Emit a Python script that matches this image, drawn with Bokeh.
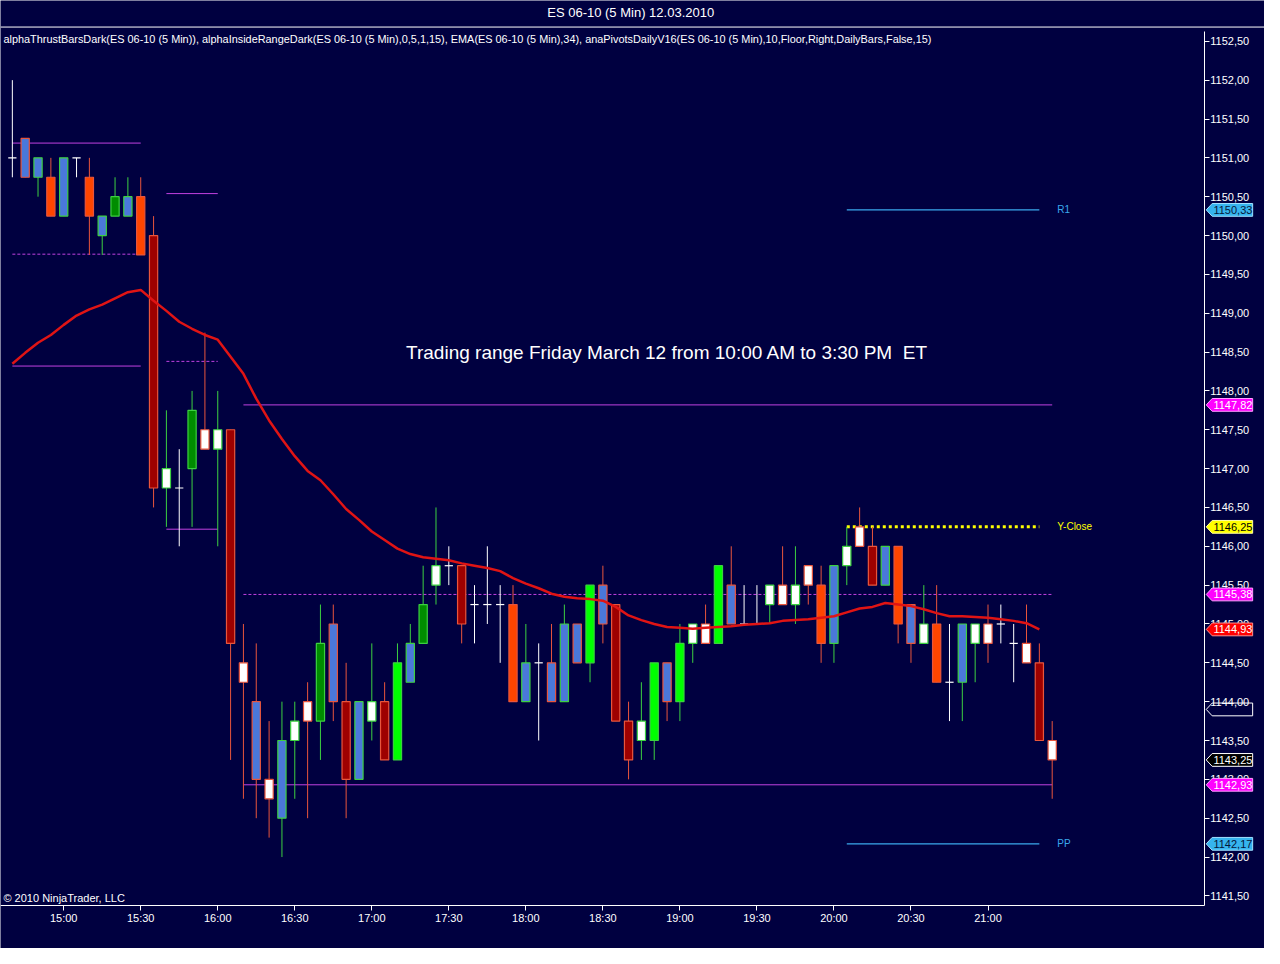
from bokeh.plotting import figure
from bokeh.models import ColumnDataSource, Range1d, FixedTicker, Span
from bokeh.embed import file_html
from bokeh.resources import INLINE
from bokeh.core.properties import value

# ---------------- data ----------------
title_text = "ES 06-10 (5 Min)  12.03.2010"
indicator_text = ("alphaThrustBarsDark(ES 06-10 (5 Min)), alphaInsideRangeDark(ES 06-10 (5 Min),0,5,1,15), "
                  "EMA(ES 06-10 (5 Min),34), anaPivotsDailyV16(ES 06-10 (5 Min),10,Floor,Right,DailyBars,False,15)")
note_text = "Trading range Friday March 12 from 10:00 AM to 3:30 PM\u00a0 ET"
copyright_text = "\u00a9 2010 NinjaTrader, LLC"

first_bar_time = "14:40"
bar_minutes = 5

opens = [1151.0, 1151.25, 1150.75, 1150.75, 1150.25, 1151.0, 1150.75, 1150.0, 1150.25, 1150.25,
         1150.5, 1150.0, 1146.75, 1146.75, 1147.0, 1147.5, 1147.25, 1147.5, 1144.5, 1144.0,
         1143.0, 1142.5, 1143.5, 1144.0, 1143.75, 1145.0, 1144.0, 1143.0, 1143.75, 1144.0,
         1143.25, 1144.25, 1144.75, 1145.5, 1145.75, 1145.75, 1145.25, 1145.25, 1145.25, 1145.25,
         1144.0, 1144.5, 1144.5, 1144.0, 1145.0, 1144.5, 1145.5, 1145.25, 1143.75, 1143.5,
         1143.5, 1144.5, 1144.0, 1144.75, 1145.0, 1144.75, 1145.5, 1145.0, 1145.0, 1145.25,
         1145.5, 1145.25, 1145.75, 1145.5, 1144.75, 1145.75, 1146.25, 1146.0, 1145.5, 1146.0,
         1145.25, 1144.75, 1145.0, 1144.25, 1144.25, 1144.75, 1145.0, 1145.0, 1144.75, 1144.75,
         1144.5, 1143.5]
highs = [1152.0, 1151.25, 1151.0, 1151.0, 1151.0, 1151.0, 1151.0, 1150.25, 1150.75, 1150.75,
         1150.75, 1150.25, 1147.75, 1147.25, 1148.0, 1148.75, 1148.0, 1147.5, 1145.0, 1144.75,
         1143.75, 1144.0, 1144.0, 1144.25, 1145.25, 1145.25, 1144.5, 1144.0, 1144.75, 1144.25,
         1144.75, 1145.0, 1145.75, 1146.5, 1146.0, 1145.75, 1145.5, 1146.0, 1145.5, 1145.5,
         1145.0, 1144.75, 1145.0, 1145.25, 1145.0, 1145.5, 1145.75, 1145.25, 1144.0, 1144.25,
         1144.5, 1144.5, 1145.0, 1145.0, 1145.25, 1145.75, 1146.0, 1145.5, 1145.5, 1145.5,
         1146.0, 1146.0, 1145.75, 1145.75, 1145.75, 1146.25, 1146.5, 1146.25, 1146.0, 1146.0,
         1145.25, 1145.5, 1145.5, 1145.0, 1145.0, 1145.0, 1145.25, 1145.25, 1145.0, 1145.25,
         1144.75, 1143.75]
lows = [1150.75, 1150.75, 1150.5, 1150.25, 1150.25, 1150.75, 1149.75, 1149.75, 1150.25, 1150.25,
        1149.75, 1146.5, 1146.25, 1146.0, 1146.25, 1147.25, 1146.0, 1143.25, 1142.75, 1142.5,
        1142.25, 1142.0, 1142.75, 1142.5, 1143.25, 1143.75, 1142.5, 1143.0, 1143.5, 1143.25,
        1143.25, 1144.25, 1144.75, 1145.25, 1145.5, 1144.75, 1144.75, 1145.0, 1144.5, 1144.0,
        1144.0, 1143.5, 1144.0, 1144.0, 1144.5, 1144.25, 1144.75, 1143.75, 1143.0, 1143.25,
        1143.25, 1143.75, 1143.75, 1144.5, 1144.75, 1144.75, 1145.0, 1145.0, 1145.0, 1145.0,
        1145.25, 1145.0, 1145.25, 1144.5, 1144.5, 1145.5, 1146.0, 1145.5, 1145.5, 1144.75,
        1144.5, 1144.75, 1144.25, 1143.75, 1143.75, 1144.25, 1144.5, 1144.75, 1144.25, 1144.5,
        1143.5, 1142.75]
closes = [1151.0, 1150.75, 1151.0, 1150.25, 1151.0, 1151.0, 1150.25, 1150.25, 1150.5, 1150.5,
          1149.75, 1146.75, 1147.0, 1146.75, 1147.75, 1147.25, 1147.5, 1144.75, 1144.25, 1143.0,
          1142.75, 1143.5, 1143.75, 1143.75, 1144.75, 1144.0, 1143.0, 1144.0, 1144.0, 1143.25,
          1144.5, 1144.75, 1145.25, 1145.75, 1145.75, 1145.0, 1145.25, 1145.25, 1145.25, 1144.0,
          1144.5, 1144.5, 1144.0, 1145.0, 1144.5, 1145.5, 1145.0, 1143.75, 1143.25, 1143.75,
          1144.5, 1144.0, 1144.75, 1145.0, 1144.75, 1145.75, 1145.0, 1145.0, 1145.0, 1145.5,
          1145.25, 1145.5, 1145.5, 1144.75, 1145.75, 1146.0, 1146.0, 1145.5, 1146.0, 1145.0,
          1144.75, 1145.0, 1144.25, 1144.25, 1145.0, 1145.0, 1144.75, 1145.0, 1144.75, 1144.5,
          1143.5, 1143.25]
# thrust-bar body category per bar: b=blue, o=orange-red, d=dark red, g=green, l=lime, w=white, x=doji
thrust_type = ["x", "b", "b", "o", "b", "x", "o", "b", "g", "b",
               "o", "d", "w", "x", "g", "w", "w", "d", "w", "b",
               "w", "b", "w", "w", "g", "b", "d", "b", "w", "d",
               "l", "b", "g", "w", "x", "d", "x", "x", "x", "o",
               "b", "x", "b", "b", "b", "l", "b", "d", "d", "w",
               "l", "b", "l", "w", "w", "l", "b", "x", "x", "w",
               "w", "w", "w", "o", "b", "w", "w", "d", "b", "o",
               "b", "w", "o", "x", "b", "w", "w", "x", "x", "w",
               "d", "w"]
ema34 = [1148.35, 1148.49, 1148.62, 1148.72, 1148.85, 1148.97, 1149.05, 1149.11, 1149.19, 1149.27,
         1149.30, 1149.16, 1149.03, 1148.89, 1148.80, 1148.72, 1148.66, 1148.44, 1148.22, 1147.90,
         1147.62, 1147.38, 1147.16, 1146.97, 1146.85, 1146.67, 1146.48, 1146.34, 1146.19, 1146.08,
         1145.97, 1145.90, 1145.86, 1145.84, 1145.82, 1145.78, 1145.75, 1145.72, 1145.68, 1145.59,
         1145.52, 1145.46, 1145.39, 1145.35, 1145.33, 1145.32, 1145.30, 1145.22, 1145.11, 1145.05,
         1145.00, 1144.96, 1144.95, 1144.94, 1144.95, 1144.96, 1144.97, 1144.99, 1145.00, 1145.01,
         1145.04, 1145.05, 1145.06, 1145.08, 1145.10, 1145.15, 1145.20, 1145.22, 1145.27, 1145.25,
         1145.23, 1145.19, 1145.14, 1145.10, 1145.10, 1145.09, 1145.08, 1145.06, 1145.04, 1145.01,
         1144.93]

# inside-range lines (start bar, end bar, price, dashed?)
range_start = [0, 0, 0, 12, 12, 12, 18, 18, 18]
range_end = [10, 10, 10, 16, 16, 16, 81, 81, 81]
range_price = [1151.19, 1149.76, 1148.32, 1150.54, 1148.38, 1146.22, 1147.82, 1145.38, 1142.93]
range_dashed = [False, True, False, False, True, False, False, True, False]

# daily pivots
pivot_names = ["R1", "Y-Close", "PP"]
pivot_values = [1150.33, 1146.25, 1142.17]
pivot_start_bar = 65
pivot_end_bar = 80

time_tick_labels = ["15:00", "15:30", "16:00", "16:30", "17:00", "17:30", "18:00", "18:30",
                    "19:00", "19:30", "20:00", "20:30", "21:00"]
price_ticks = [1141.5, 1142.0, 1142.5, 1143.0, 1143.5, 1144.0, 1144.5, 1145.0, 1145.5, 1146.0,
               1146.5, 1147.0, 1147.5, 1148.0, 1148.5, 1149.0, 1149.5, 1150.0, 1150.5, 1151.0,
               1151.5, 1152.0, 1152.5]
hidden_marker_price = 1143.90

# ---------------- layout helpers (reference-pixel -> data) ----------------
REF_W, REF_H = 1280, 964
W, H = 1264, 948
PX_BAR = 13.0      # reference px per bar
PX_PT = 79.0       # reference px per point
BAR0_X = 12.0      # reference x of bar 0
P_REF, P_REF_Y = 1152.0, 81.0

def bx(px):
    return (px - BAR0_X) / PX_BAR

def py(px):
    return P_REF - (px - P_REF_Y) / PX_PT

BG = "#000040"
FONT = "Liberation Sans"
FILL = {"b": "#4A78DA", "o": "#FF4500", "d": "#9E0000", "g": "#008C00", "l": "#00FF00", "w": "#FFFFFF"}
UP = "#3CD040"
DOWN = "#E8553C"
RANGE_COL = "#C040E0"
PIV_COL = "#3AA8EC"
YEL = "#FFFF00"

p = figure(width=W, height=H, output_backend="svg", toolbar_location=None, tools="",
           x_range=Range1d(bx(0), bx(REF_W)), y_range=Range1d(py(REF_H), py(0)),
           x_axis_location="below", y_axis_location="right",
           min_border=0, min_border_left=0, min_border_right=0, min_border_top=0, min_border_bottom=0,
           background_fill_color=BG, border_fill_color=BG, outline_line_color=None)
p.grid.visible = False

n = len(opens)
idx = list(range(n))

# ---- time axis (fixed inside the canvas) ----
def to_min(s):
    h, m = s.split(":")
    return int(h) * 60 + int(m)
t0 = to_min(first_bar_time)
tick_pos = [(to_min(t) - t0) / bar_minutes for t in time_tick_labels]
xa = p.xaxis[0]
xa.fixed_location = py(920)
xa.bounds = (bx(0), bx(1219))
xa.ticker = FixedTicker(ticks=tick_pos)
xa.major_label_overrides = {tp: lab for tp, lab in zip(tick_pos, time_tick_labels)}
xa.axis_line_color = "white"
xa.major_tick_line_color = "white"
xa.minor_tick_line_color = None
xa.major_tick_in = 0
xa.major_tick_out = 5
xa.major_label_standoff = 2
xa.major_label_text_color = "white"
xa.major_label_text_font = FONT
xa.major_label_text_font_size = "11px"

# ---- price axis ----
ya = p.yaxis[0]
ya.fixed_location = bx(1219)
ya.bounds = (py(920), py(32))
ya.ticker = FixedTicker(ticks=price_ticks)
ya.major_label_overrides = {t: ("%.2f" % t).replace(".", ",") for t in price_ticks}
ya.axis_line_color = "white"
ya.major_tick_line_color = "white"
ya.minor_tick_line_color = None
ya.major_tick_in = 0
ya.major_tick_out = 5
ya.major_label_standoff = 1
ya.major_label_text_color = "white"
ya.major_label_text_font = FONT
ya.major_label_text_font_size = "11px"

# top border line
p.add_layout(Span(location=py(27), dimension="width", line_color="white", line_width=1))

# ---- inside-range lines ----
for s, e, pr, d in zip(range_start, range_end, range_price, range_dashed):
    p.line([s, e], [pr, pr], line_color=RANGE_COL, line_width=1, line_dash="3 2" if d else "solid")

# ---- pivots ----
for name, val in zip(pivot_names, pivot_values):
    if name == "Y-Close":
        p.line([pivot_start_bar, pivot_end_bar], [val, val], line_color=YEL, line_width=3, line_dash="3 3")
        col = YEL
    else:
        p.line([pivot_start_bar, pivot_end_bar], [val, val], line_color=PIV_COL, line_width=1.2)
        col = PIV_COL
    p.text(x=[pivot_end_bar + 1.4], y=[val], text=[name], text_color=col, text_font=value(FONT),
           text_font_size="10px", text_align="left", text_baseline="middle")

# ---- candles ----
wick_col = []
for o, c in zip(opens, closes):
    wick_col.append(UP if c > o else (DOWN if c < o else "white"))
src_w = ColumnDataSource(dict(x=idx, lo=lows, hi=highs, col=wick_col))
p.segment(x0="x", y0="lo", x1="x", y1="hi", color="col", line_width=1, source=src_w)

bi = [i for i in idx if thrust_type[i] != "x"]
src_b = ColumnDataSource(dict(
    x=bi,
    top=[max(opens[i], closes[i]) for i in bi],
    bot=[min(opens[i], closes[i]) for i in bi],
    fill=[FILL[thrust_type[i]] for i in bi],
    edge=[wick_col[i] for i in bi]))
p.vbar(x="x", width=0.64, top="top", bottom="bot", fill_color="fill", line_color="edge",
       line_width=1.2, source=src_b)

di = [i for i in idx if thrust_type[i] == "x"]
src_d = ColumnDataSource(dict(x0=[i - 0.32 for i in di], x1=[i + 0.32 for i in di],
                              y=[closes[i] for i in di]))
p.segment(x0="x0", y0="y", x1="x1", y1="y", color="white", line_width=1.2, source=src_d)

# ---- EMA ----
p.line(list(range(len(ema34))), ema34, line_color="#E01414", line_width=2.5)

# ---- price tags on the price axis (drawn above the axis labels) ----
tag_prices = [pivot_values[0], range_price[6], pivot_values[1], range_price[7],
              ema34[-1], closes[-1], range_price[8], pivot_values[2]]
tag_fill = ["#36B4EE", "#FF00FF", "#FFFF00", "#FF00FF", "#FF0000", "#000000", "#FF00FF", "#36B4EE"]
tag_text_col = ["#06163A", "white", "black", "white", "white", "white", "white", "#06163A"]
tag_edge = ["#A0E0FF", "#FFA0FF", "#FFFFA0", "#FFA0FF", "#FF9090", "white", "#FFA0FF", "#A0E0FF"]
hh = 6.5 / PX_PT
tip, bl, br = bx(1221), bx(1227), bx(1268)

def tag_shape(pr):
    return [tip, bl, br, br, bl], [pr, pr + hh, pr + hh, pr - hh, pr - hh]

hxs, hys = tag_shape(hidden_marker_price)
p.patch(hxs, hys, fill_color=None, line_color="white", line_width=1, level="overlay")
txs, tys = [], []
for pr in tag_prices:
    a, b = tag_shape(pr)
    txs.append(a)
    tys.append(b)
p.patches(xs=txs, ys=tys, fill_color=tag_fill, line_color=tag_edge, line_width=1, level="overlay")
p.text(x=[bx(1248)] * len(tag_prices), y=tag_prices,
       text=[("%.2f" % t).replace(".", ",") for t in tag_prices], text_color=tag_text_col,
       text_font=value(FONT), text_font_size="11px", text_align="center", text_baseline="middle",
       level="overlay")

# ---- texts ----
p.text(x=[bx(640)], y=[py(12)], text=[title_text], text_color="white", text_font=value(FONT),
       text_font_size="13px", text_align="center", text_baseline="middle")
p.text(x=[bx(3)], y=[py(39)], text=[indicator_text], text_color="white", text_font=value(FONT),
       text_font_size="10.9px", text_align="left", text_baseline="middle")
p.text(x=[bx(675)], y=[py(358)], text=[note_text], text_color="white", text_font=value(FONT),
       text_font_size="19px", text_align="center", text_baseline="middle")
p.text(x=[bx(3)], y=[py(913)], text=[copyright_text], text_color="white", text_font=value(FONT),
       text_font_size="11px", text_align="left", text_baseline="middle")

open("out.html", "w").write(file_html(p, INLINE))
